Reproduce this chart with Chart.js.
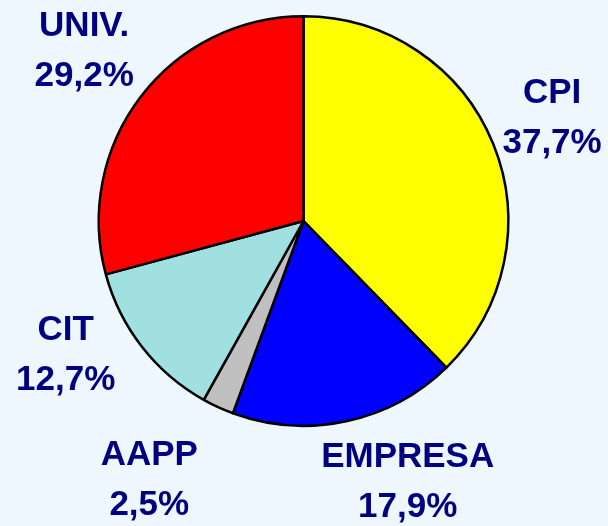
<!DOCTYPE html>
<html>
<head>
<meta charset="utf-8">
<script src="https://cdn.jsdelivr.net/npm/chart.js@4.4.1/dist/chart.umd.min.js"></script>
<style>
  html, body { margin:0; padding:0; background:#eef7fe; }
  #wrap { width:608px; height:526px; position:relative; }
</style>
</head>
<body>
<div id="wrap"><canvas id="pieChart" width="608" height="526"></canvas></div>
<script>
const categories = ["CPI", "EMPRESA", "AAPP", "CIT", "UNIV."];
const shares = [37.7, 17.9, 2.5, 12.7, 29.2];
const sliceColors = ["#ffff00", "#0000ff", "#c0c0c0", "#a0e0e0", "#ff0000"];

// label nudges (px) from the radial anchor, per slice
const labelNudge = [[-5, 1], [47, -6], [-40, 11], [-22, -34], [-2, -3]];

function fmtPct(v){
  return v.toFixed(1).replace(".", ",") + "%";
}

const outsideLabels = {
  id: "outsideLabels",
  afterDraw(chart){
    const ctx = chart.ctx;
    const meta = chart.getDatasetMeta(0);
    ctx.save();
    ctx.fillStyle = "#000080";
    ctx.font = "bold 35px 'Liberation Sans', Arial, sans-serif";
    ctx.textAlign = "center";
    ctx.textBaseline = "middle";
    meta.data.forEach((arc, i) => {
      const p = arc.getProps(["x","y","startAngle","endAngle","outerRadius"], true);
      const mid = (p.startAngle + p.endAngle) / 2;
      const dist = p.outerRadius + 69;
      const x = p.x + Math.cos(mid) * dist + labelNudge[i][0];
      const y = p.y + Math.sin(mid) * dist + labelNudge[i][1];
      ctx.fillText(categories[i], x, y - 25);
      ctx.fillText(fmtPct(shares[i]), x, y + 25);
    });
    ctx.restore();
  }
};

new Chart(document.getElementById("pieChart"), {
  type: "pie",
  data: {
    labels: categories,
    datasets: [{
      data: shares,
      backgroundColor: sliceColors,
      borderColor: "#000000",
      borderWidth: 2.5,
      hoverOffset: 0,
      offset: 0
    }]
  },
  options: {
    responsive: false,
    animation: false,
    events: [],
    layout: { padding: { top: 15, bottom: 99, left: 0, right: 1 } },
    plugins: {
      legend: { display: false },
      tooltip: { enabled: false }
    }
  },
  plugins: [outsideLabels]
});
</script>
</body>
</html>
